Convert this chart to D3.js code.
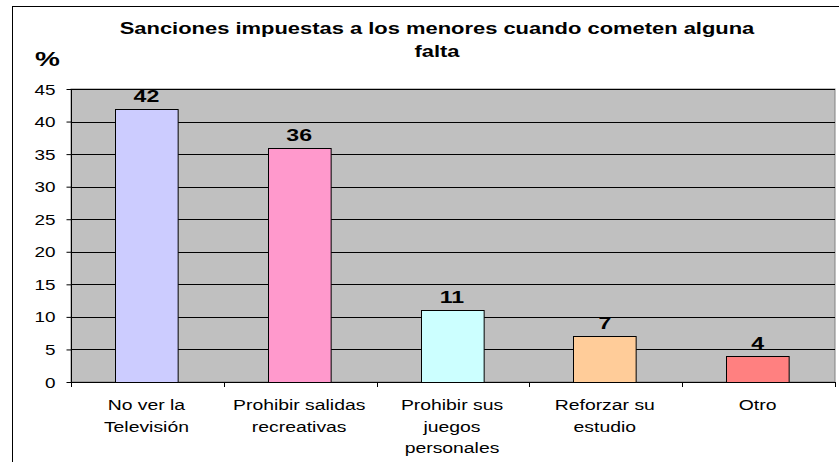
<!DOCTYPE html>
<html>
<head>
<meta charset="utf-8">
<script src="https://cdn.jsdelivr.net/npm/d3@7"></script>
<style>
  body { margin: 0; background: #fff; }
  text { font-family: Arial, "Liberation Sans", sans-serif; }
</style>
</head>
<body>
<script>
var categories = [
  ['No ver la', 'Televisión'],
  ['Prohibir salidas', 'recreativas'],
  ['Prohibir sus', 'juegos', 'personales'],
  ['Reforzar su', 'estudio'],
  ['Otro']
];
var values = [42, 36, 11, 7, 4];
var colors = ['#CCCCFF', '#FF99CC', '#CCFFFF', '#FFCC99', '#FF8080'];
var yTicks = [0, 5, 10, 15, 20, 25, 30, 35, 40, 45];
var titleLines = ['Sanciones impuestas a los menores cuando cometen alguna', 'falta'];

var W = 839, H = 462;
var plot = { left: 71, top: 89, right: 835, bottom: 382 };

var svg = d3.select('body').append('svg').attr('width', W).attr('height', H);

// the original picture is stretched sideways, so text gets a horizontal scale
var stretch = function (sx) {
  return function (sel) {
    sel.attr('transform', function () {
      var t = d3.select(this);
      return 'translate(' + t.attr('data-x') + ',' + t.attr('data-y') + ') scale(' + sx + ',1)';
    });
  };
};

// outer chart border
svg.append('rect').attr('x', 12.5).attr('y', 6.5).attr('width', W + 10).attr('height', H + 10)
  .attr('fill', '#fff').attr('stroke', '#000').attr('stroke-width', 1);

var x = d3.scaleBand().domain(d3.range(values.length)).range([plot.left, plot.right]).paddingInner(0).paddingOuter(0);
var y = d3.scaleLinear().domain([0, 45]).range([plot.bottom, plot.top]);

// plot background
svg.append('rect').attr('x', plot.left).attr('y', plot.top)
  .attr('width', plot.right - plot.left).attr('height', plot.bottom - plot.top)
  .attr('fill', '#C0C0C0').attr('stroke', '#808080').attr('stroke-width', 1);

// gridlines
svg.append('g').selectAll('line').data(yTicks.filter(function (d) { return d > 0; }))
  .enter().append('line')
  .attr('x1', plot.left).attr('x2', plot.right)
  .attr('y1', function (d) { return Math.round(y(d)) + 0.5; })
  .attr('y2', function (d) { return Math.round(y(d)) + 0.5; })
  .attr('stroke', '#000').attr('stroke-width', 1);

// y axis
var yAxis = d3.axisLeft(y).tickValues(yTicks).tickSize(5).tickPadding(16);
var gy = svg.append('g').attr('transform', 'translate(' + (plot.left + 0.5) + ',0)').call(yAxis);
gy.selectAll('line, path').attr('stroke', '#000');
gy.select('.domain').attr('d', 'M0,' + plot.top + 'V' + plot.bottom);
gy.selectAll('text').attr('font-size', 14).attr('fill', '#000')
  .style('font-family', 'Arial, "Liberation Sans", sans-serif')
  .attr('x', null).attr('dy', '0.36em')
  .attr('transform', 'translate(-16,0) scale(1.35,1)');

// x axis line + ticks at category boundaries
svg.append('line').attr('x1', plot.left).attr('x2', plot.right)
  .attr('y1', plot.bottom + 0.5).attr('y2', plot.bottom + 0.5).attr('stroke', '#000');
svg.append('g').selectAll('line').data(d3.range(values.length + 1)).enter().append('line')
  .attr('x1', function (i) { return Math.round(plot.left + i * x.step()) + 0.5; })
  .attr('x2', function (i) { return Math.round(plot.left + i * x.step()) + 0.5; })
  .attr('y1', plot.bottom).attr('y2', plot.bottom + 5).attr('stroke', '#000');

// bars
var barW = x.bandwidth() * 0.41;
svg.append('g').selectAll('rect').data(values).enter().append('rect')
  .attr('x', function (d, i) { return Math.round(x(i) + x.bandwidth() / 2 - barW / 2 - 1) + 0.5; })
  .attr('y', function (d) { return Math.round(y(d)) + 0.5; })
  .attr('width', barW)
  .attr('height', function (d) { return y(0) - Math.round(y(d)); })
  .attr('fill', function (d, i) { return colors[i]; })
  .attr('stroke', '#000').attr('stroke-width', 1);

// value labels
svg.append('g').selectAll('text').data(values).enter().append('text')
  .attr('data-x', function (d, i) { return x(i) + x.bandwidth() / 2 - 1; })
  .attr('data-y', function (d) { return y(d) - 7; })
  .attr('text-anchor', 'middle').attr('font-size', 16.5).attr('font-weight', 'bold')
  .text(function (d) { return d; })
  .call(stretch(1.4));

// category labels
svg.append('g').selectAll('g').data(categories).enter().append('g')
  .each(function (lines, i) {
    d3.select(this).selectAll('text').data(lines).enter().append('text')
      .attr('data-x', x(i) + x.bandwidth() / 2 - 1)
      .attr('data-y', function (d, j) { return 410 + j * 21.7; })
      .attr('text-anchor', 'middle').attr('font-size', 15.5)
      .text(function (d) { return d; })
      .call(stretch(1.25));
  });

// title
svg.append('g').selectAll('text').data(titleLines).enter().append('text')
  .attr('data-x', 437).attr('data-y', function (d, i) { return 33.5 + i * 23; })
  .attr('text-anchor', 'middle').attr('font-size', 17).attr('font-weight', 'bold')
  .text(function (d) { return d; })
  .call(stretch(1.29));

// unit label
svg.append('text').attr('data-x', 35).attr('data-y', 66).attr('font-size', 20).attr('font-weight', 'bold')
  .text('%').call(stretch(1.4));
</script>
</body>
</html>
